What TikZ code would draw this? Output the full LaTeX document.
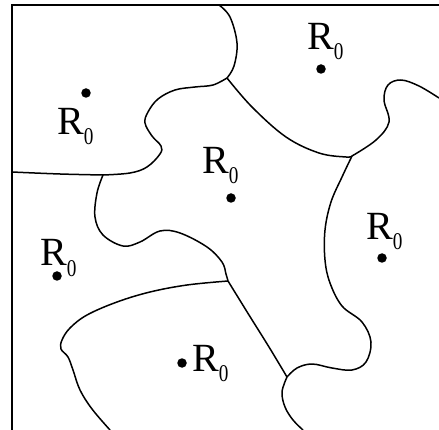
\documentclass[tikz,border=0pt]{standalone}
\usepackage{fontspec}
\setmainfont{Liberation Serif}
\usepackage{tikz}
\usetikzlibrary{positioning}

\newcommand{\Rzero}{R\raisebox{-10pt}{\fontsize{24}{24}\selectfont\scalebox{0.8}[1]{0}}}

\begin{document}
\begin{tikzpicture}[x=1pt, y=-1pt,
  wall/.style={line width=1.5pt, line join=round},
  frame/.style={line width=2pt},
  seed/.style={circle, fill, inner sep=0pt, minimum size=9.5pt},
  lbl/.style={inner sep=0pt, anchor=base west, font=\fontsize{40}{40}\selectfont},
]
\useasboundingbox (0,0) rectangle (439,430);
\draw[frame] (12,430) -- (12,5) -- (439,5);

% junctions of the cells
\coordinate (jA) at (103,175);
\coordinate (jB) at (227,78);
\coordinate (jC) at (352,156);
\coordinate (jD) at (228,281);
\coordinate (jE) at (287,377);

% cell walls
\draw[wall] plot[smooth, tension=0.6] coordinates {(12,172) (60,174) (jA)};
\draw[wall] plot[smooth, tension=0.6] coordinates {(jA) (130,173) (147,167) (160,154)
  (161,146) (152,136) (145,123) (148,112) (158,99) (175,90) (195,87) (213,85) (jB)};
\draw[wall] plot[smooth, tension=0.6] coordinates {(219,5) (230,17) (237,43) (234,66) (jB)};
\draw[wall] plot[smooth, tension=0.6] coordinates {(jB) (252,107) (286,137) (319,153) (346,157) (jC)};
\draw[wall] plot[smooth, tension=0.6] coordinates {(jC) (376,140) (389,122) (384,100)
  (388,85) (401,80) (419,86) (439,98)};
\draw[wall] plot[smooth, tension=0.6] coordinates {(jC) (342,177) (331,202) (325,230)
  (325,260) (330,283) (342,306) (362,322) (371,342) (366,362) (352,370) (332,368)
  (312,364) (297,368) (jE)};
\draw[wall] plot[smooth, tension=0.6] coordinates {(jA) (97,193) (95,217) (103,235)
  (123,246) (140,242) (160,231) (180,233) (207,247) (222,262) (226,274) (jD)};
\draw[wall] plot[smooth, tension=0.6] coordinates {(jD) (249,315) (269,347) (jE)};
\draw[wall] plot[smooth, tension=0.6] coordinates {(jD) (187,285) (150,292) (117,302)
  (87,315) (70,328) (62,340) (61,349) (68,357) (73,370) (80,390) (92,409) (110,430)};
\draw[wall] plot[smooth, tension=0.6] coordinates {(jE) (282,392) (285,407) (293,420) (303,430)};

% seeds
\node[seed] (s1) at (86,93) {};
\node[seed] (s2) at (321,69) {};
\node[seed] (s3) at (231,198) {};
\node[seed] (s4) at (382,258) {};
\node[seed] (s5) at (57,276) {};
\node[seed] (s6) at (182,363) {};

\node[lbl] (r1) at (57,135) {\Rzero};
\node[lbl] (r2) at (307,50) {\Rzero};
\node[lbl] (r3) at (202,174) {\Rzero};
\node[lbl] (r4) at (366,240) {\Rzero};
\node[lbl] (r5) at (40,266) {\Rzero};
\node[lbl] (r6) at (192,371) {\Rzero};
\end{tikzpicture}
\end{document}
